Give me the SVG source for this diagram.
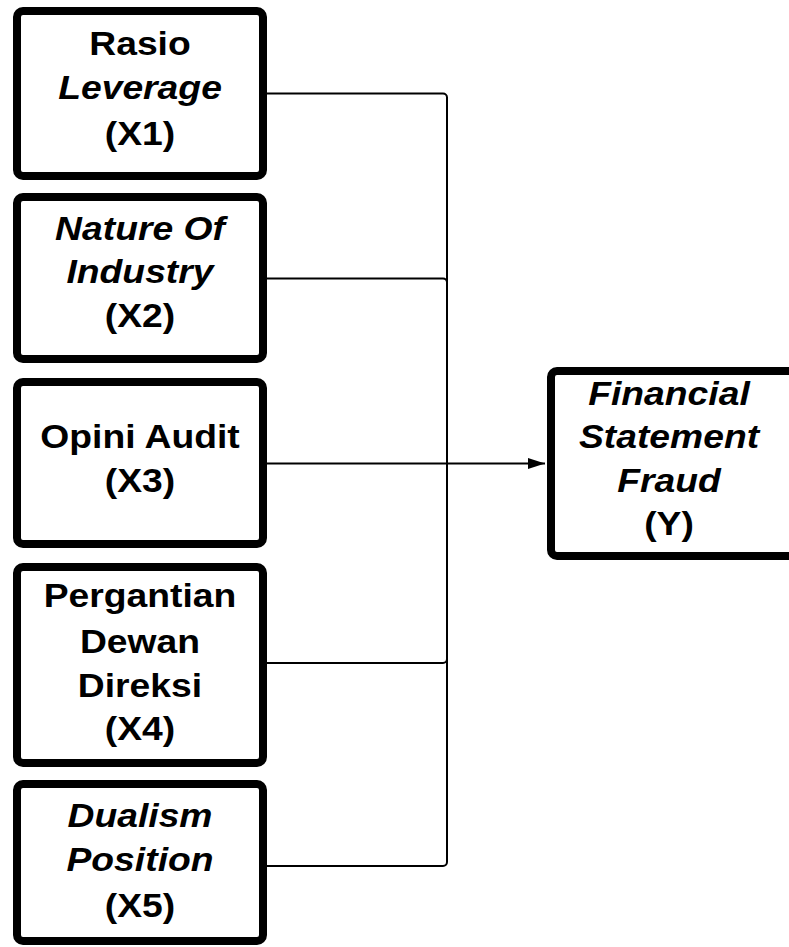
<svg xmlns="http://www.w3.org/2000/svg" width="789" height="947" viewBox="0 0 789 947">
<style>
.box{fill:#fff;stroke:#000;stroke-width:8}
.t{font-family:"Liberation Sans",Arial,sans-serif;font-weight:bold;font-size:33px;fill:#000;text-anchor:middle}
.i{font-style:italic}
.c{fill:none;stroke:#000;stroke-width:2}
</style>
<defs>
<marker id="arr" markerWidth="17" markerHeight="11" refX="17" refY="5.5" orient="auto" markerUnits="userSpaceOnUse">
<path d="M0,0 L17,5.5 L0,11 Z" fill="#000"/>
</marker>
</defs>
<rect width="789" height="947" fill="#fff"/>
<g id="connectors">
<path class="c" d="M267,93.5 H443 A4,4 0 0 1 447,97.5 V463"/>
<path class="c" d="M267,278.5 H443 A4,4 0 0 1 447,282.5 V463"/>
<path class="c" d="M267,663 H443 A4,4 0 0 0 447,659 V463"/>
<path class="c" d="M267,866 H443 A4,4 0 0 0 447,862 V463"/>
<path class="c" d="M267,463.5 H545" marker-end="url(#arr)"/>
</g>
<g id="x1">
<rect class="box" x="17" y="11" width="246" height="165" rx="6"/>
<g transform="translate(140 0) scale(1.13 1)">
<text class="t" x="0" y="55">Rasio</text>
<text class="t i" x="0" y="99">Leverage</text>
<text class="t" x="0" y="145">(X1)</text>
</g>
</g>
<g id="x2">
<rect class="box" x="17" y="197" width="246" height="162" rx="6"/>
<g transform="translate(140 0) scale(1.13 1)">
<text class="t i" x="0" y="240">Nature Of</text>
<text class="t i" x="0" y="283">Industry</text>
<text class="t" x="0" y="327">(X2)</text>
</g>
</g>
<g id="x3">
<rect class="box" x="17" y="382" width="246" height="162" rx="6"/>
<g transform="translate(140 0) scale(1.13 1)">
<text class="t" x="0" y="448">Opini Audit</text>
<text class="t" x="0" y="492">(X3)</text>
</g>
</g>
<g id="x4">
<rect class="box" x="17" y="567" width="246" height="196" rx="6"/>
<g transform="translate(140 0) scale(1.13 1)">
<text class="t" x="0" y="607">Pergantian</text>
<text class="t" x="0" y="653">Dewan</text>
<text class="t" x="0" y="697">Direksi</text>
<text class="t" x="0" y="740">(X4)</text>
</g>
</g>
<g id="x5">
<rect class="box" x="17" y="784" width="246" height="157" rx="6"/>
<g transform="translate(140 0) scale(1.13 1)">
<text class="t i" x="0" y="827">Dualism</text>
<text class="t i" x="0" y="871">Position</text>
<text class="t" x="0" y="917">(X5)</text>
</g>
</g>
<g id="y">
<rect class="box" x="551" y="371" width="260" height="185" rx="6"/>
<g transform="translate(669 0) scale(1.13 1)">
<text class="t i" x="0" y="405">Financial</text>
<text class="t i" x="0" y="448">Statement</text>
<text class="t i" x="0" y="492">Fraud</text>
<text class="t" x="0" y="535">(Y)</text>
</g>
</g>
</svg>
